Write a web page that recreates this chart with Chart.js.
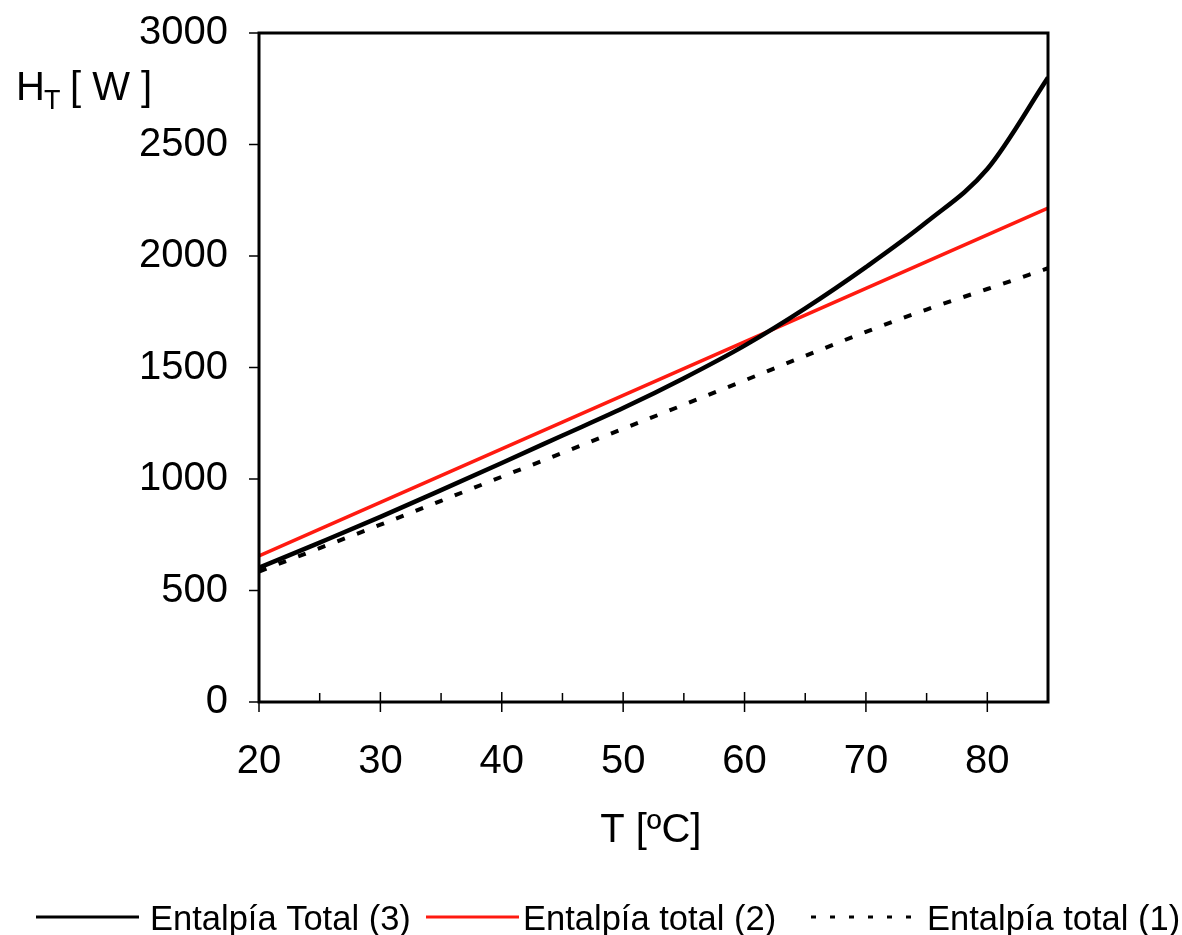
<!DOCTYPE html>
<html>
<head>
<meta charset="utf-8">
<script src="https://cdn.jsdelivr.net/npm/chart.js@4.4.1/dist/chart.umd.min.js"></script>
<style>
  html, body { margin: 0; padding: 0; background: #fff; }
  #wrap { width: 1182px; height: 935px; }
</style>
</head>
<body>
<div id="wrap"><canvas id="c" width="1182" height="935"></canvas></div>
<script>
// ---- data ----
const temps = [20, 25, 30, 35, 40, 45, 50, 55, 60, 65, 70, 75, 80, 85];
const entalpiaTotal3 = [602, 715, 830, 950, 1072, 1195, 1318, 1452, 1598, 1765, 1950, 2152, 2390, 2800];
const entalpiaTotal2 = [655, 775, 895, 1015, 1135, 1255, 1375, 1495, 1615, 1735, 1855, 1975, 2095, 2215];
const entalpiaTotal1 = [585, 690, 795, 902, 1010, 1117, 1225, 1333, 1442, 1552, 1660, 1760, 1852, 1945];
const seriesLabels = ['Entalpía Total (3)', 'Entalpía total (2)', 'Entalpía total (1)'];
const xMajorTicks = [20, 30, 40, 50, 60, 70, 80];
const xMinorTicks = [25, 35, 45, 55, 65, 75, 85];
const yTicks = [0, 500, 1000, 1500, 2000, 2500, 3000];
const xTitle = 'T [ºC]';
const yTitleMain = 'H';
const yTitleSub = 'T';
const yTitleUnit = '[ W ]';

const FONT = '"Liberation Sans", Arial, sans-serif';

function pts(vals) { return temps.map((t, i) => ({ x: t, y: vals[i] })); }

const decor = {
  id: 'decor',
  afterDatasetsDraw(chart) {
    const { ctx, chartArea: a, scales: { x, y } } = chart;
    const line = (x1, y1, x2, y2) => { ctx.beginPath(); ctx.moveTo(x1, y1); ctx.lineTo(x2, y2); ctx.stroke(); };
    ctx.save();
    ctx.strokeStyle = '#000';
    // frame
    ctx.lineWidth = 3;
    ctx.strokeRect(a.left, a.top, a.right - a.left, a.bottom - a.top);
    // ticks
    ctx.lineWidth = 1.5;
    yTicks.forEach(v => { const py = y.getPixelForValue(v); line(a.left - 10, py, a.left, py); });
    xMajorTicks.forEach(t => { const px = x.getPixelForValue(t); line(px, a.bottom - 10, px, a.bottom + 10); });
    xMinorTicks.forEach(t => { const px = x.getPixelForValue(t); line(px, a.bottom - 9, px, a.bottom); });

    // y title with subscript
    ctx.fillStyle = '#000';
    ctx.textBaseline = 'alphabetic';
    ctx.textAlign = 'left';
    ctx.font = '40px ' + FONT;
    ctx.fillText(yTitleMain, 16, 100);
    ctx.font = '27px ' + FONT;
    ctx.fillText(yTitleSub, 44, 109);
    ctx.font = '40px ' + FONT;
    ctx.fillText(yTitleUnit, 70, 100);

    // x title
    ctx.textAlign = 'center';
    ctx.font = '40px ' + FONT;
    ctx.fillText(xTitle, (x.getPixelForValue(50) + x.getPixelForValue(60)) / 2 - 33, 842);

    // legend
    const legendY = 917;
    const items = [
      { x1: 36, x2: 139, tx: 150 },
      { x1: 426, x2: 519, tx: 523 },
      { x1: 811, x2: 922, tx: 927 }
    ];
    ctx.textAlign = 'left';
    ctx.font = '34.5px ' + FONT;
    chart.data.datasets.forEach((ds, i) => {
      const it = items[i];
      ctx.strokeStyle = ds.borderColor;
      ctx.lineWidth = 3;
      ctx.setLineDash(ds.borderDash ? [5, 14] : []);
      line(it.x1, legendY, it.x2, legendY);
      ctx.setLineDash([]);
      ctx.fillStyle = '#000';
      ctx.fillText(ds.label, it.tx, legendY + 13);
    });
    ctx.restore();
  }
};

new Chart(document.getElementById('c'), {
  type: 'line',
  data: {
    datasets: [
      { label: seriesLabels[0], data: pts(entalpiaTotal3), borderColor: '#000000', borderWidth: 4.5, pointRadius: 0, cubicInterpolationMode: 'monotone' },
      { label: seriesLabels[1], data: pts(entalpiaTotal2), borderColor: '#ff1a10', borderWidth: 3.5, pointRadius: 0 },
      { label: seriesLabels[2], data: pts(entalpiaTotal1), borderColor: '#000000', borderWidth: 4, borderDash: [8, 13], pointRadius: 0, cubicInterpolationMode: 'monotone' }
    ]
  },
  options: {
    responsive: false,
    animation: false,
    devicePixelRatio: 1,
    layout: { padding: { left: 0, top: 33, right: 134, bottom: 0 } },
    plugins: { legend: { display: false }, tooltip: { enabled: false } },
    scales: {
      x: {
        type: 'linear', min: 20, max: 85,
        grid: { display: false, drawTicks: false },
        border: { display: false },
        ticks: { stepSize: 10, includeBounds: false, color: '#000', font: { family: FONT, size: 40 }, padding: 36, maxRotation: 0,
                 callback: v => String(v) },
        afterFit(s) { s.height = 233; s.paddingLeft = 0; s.paddingRight = 0; }
      },
      y: {
        min: 0, max: 3000,
        grid: { display: false, drawTicks: false },
        border: { display: false },
        ticks: { stepSize: 500, color: '#000', font: { family: FONT, size: 40 }, padding: 31,
                 callback: v => String(v) },
        afterFit(s) { s.width = 259; s.paddingTop = 0; s.paddingBottom = 0; }
      }
    }
  },
  plugins: [decor]
});
</script>
</body>
</html>
